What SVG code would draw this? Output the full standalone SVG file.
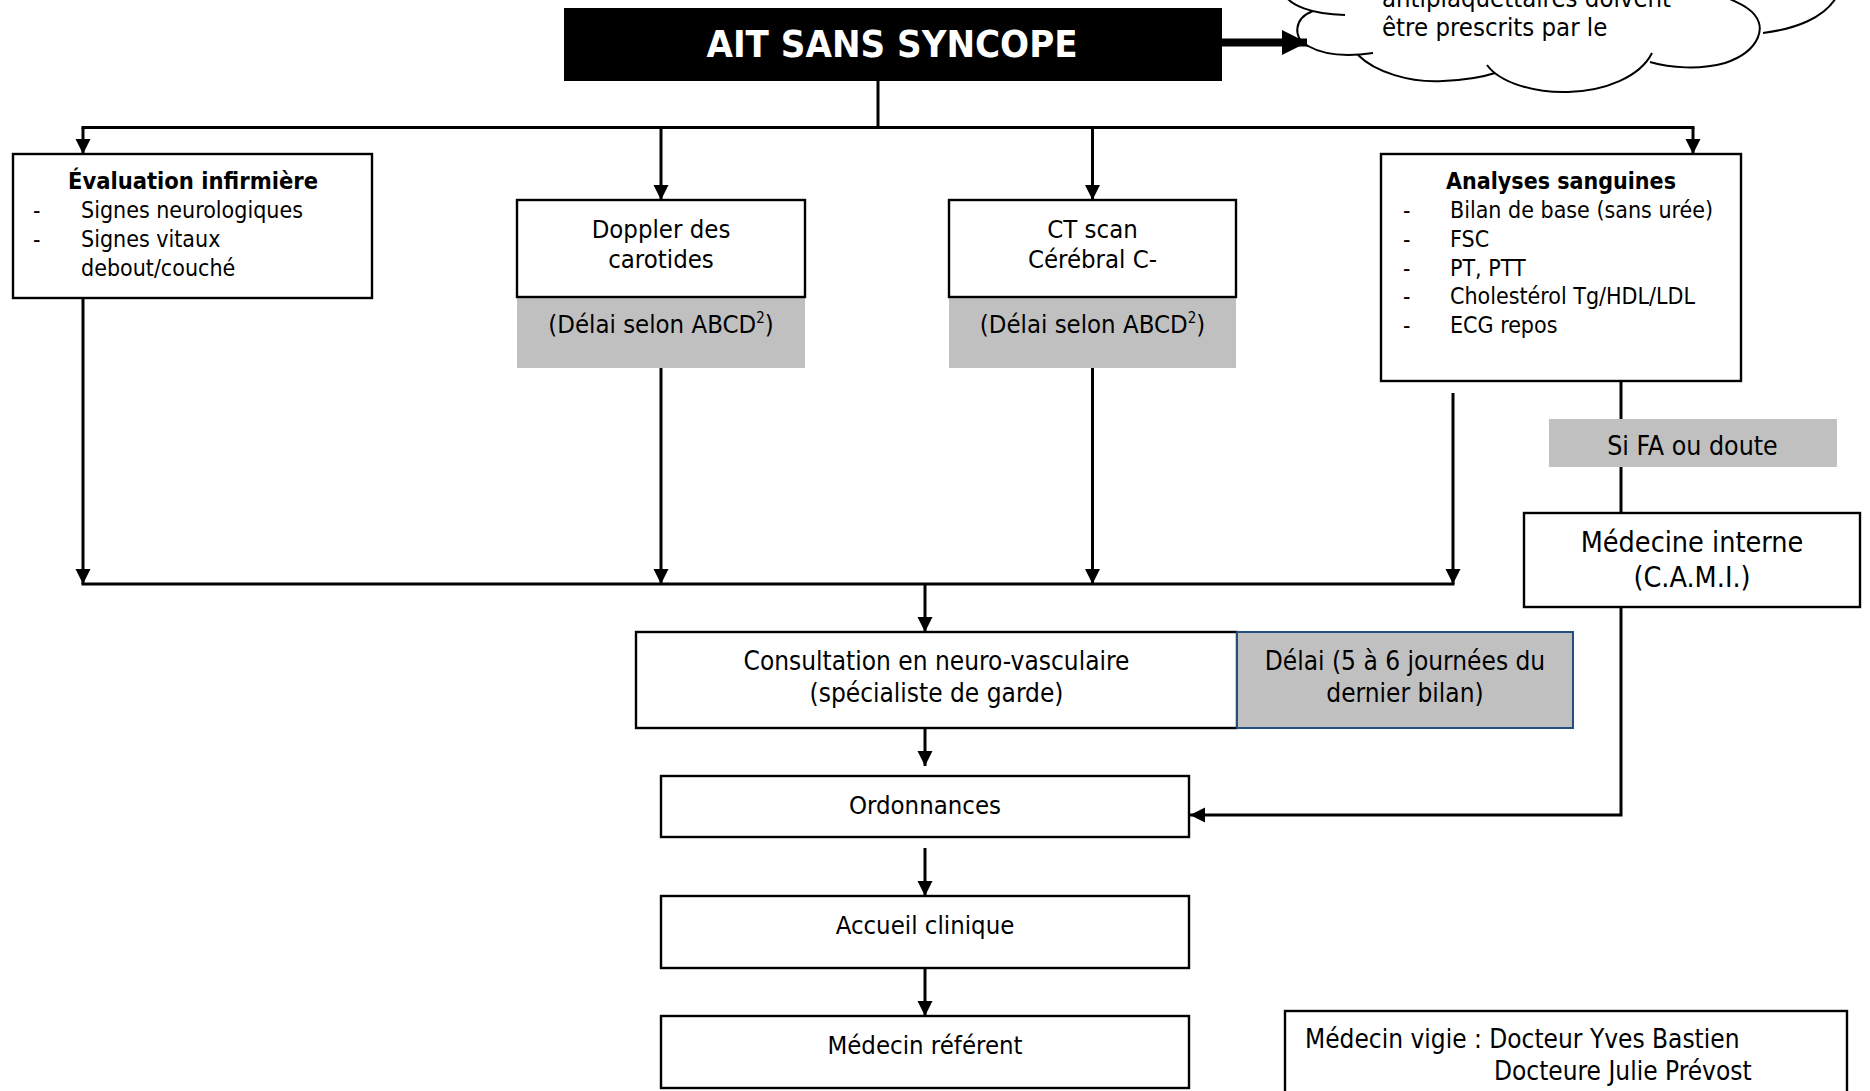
<svg xmlns="http://www.w3.org/2000/svg" width="1870" height="1091" viewBox="0 0 1870 1091">
  <defs>
    <style>
      .box { fill: #fff; stroke: #000; stroke-width: 2.4; }
      .grey { fill: #c0c0c0; }
      .t { font-family: "DejaVu Sans Condensed", "DejaVu Sans", sans-serif; font-stretch: condensed; font-size: 25.5px; fill: #000; }
      .s { font-size: 23px; }
      .b { font-weight: bold; }
      .c { text-anchor: middle; }
      .w { fill: #fff; }
      .conn { stroke: #000; stroke-width: 3; fill: none; }
      .cloud { stroke: #000; stroke-width: 2; fill: none; }
    </style>
    <marker id="arr" markerUnits="userSpaceOnUse" markerWidth="16" markerHeight="16" refX="15" refY="7.5" orient="auto">
      <path d="M0,0 L15,7.5 L0,15 Z" fill="#000"/>
    </marker>
    <marker id="big" markerUnits="userSpaceOnUse" markerWidth="28" markerHeight="28" refX="25" refY="12.5" orient="auto">
      <path d="M0,0 L25,12.5 L0,25 Z" fill="#000"/>
    </marker>
  </defs>

  <rect width="1870" height="1091" fill="#fff"/>

  <!-- cloud callout -->
  <g id="cloud">
    <path class="cloud" d="M1283,-8 C1289,6 1312,14 1345,15"/>
    <path class="cloud" d="M1313,11 C1294,18 1292,38 1308,46 C1322,54 1345,57 1373,53"/>
    <path class="cloud" d="M1358,55 C1375,72 1410,83 1443,81 C1468,80 1486,76 1495,73"/>
    <path class="cloud" d="M1487,65 C1500,83 1535,93 1568,92 C1605,91 1640,77 1652,53"/>
    <path class="cloud" d="M1650,62 C1670,68 1700,70 1725,63 C1758,52 1772,25 1747,8 C1740,3 1732,0 1725,-3"/>
    <path class="cloud" d="M1763,33 C1795,29 1825,18 1837,-4"/>
    <text class="t" x="1382" y="7">antiplaquettaires doivent</text>
    <text class="t" x="1382" y="36">être prescrits par le</text>
  </g>

  <!-- connectors -->
  <g id="connectors">
    <path d="M1222,42.5 H1307" stroke="#000" stroke-width="8" fill="none" marker-end="url(#big)"/>
    <path class="conn" d="M878,81 V127.6"/>
    <path class="conn" stroke-width="3.5" d="M81.5,127.6 H1694.5"/>
    <path class="conn" d="M83,127.6 V154" marker-end="url(#arr)"/>
    <path class="conn" d="M661,127.6 V200" marker-end="url(#arr)"/>
    <path class="conn" d="M1092.5,127.6 V200" marker-end="url(#arr)"/>
    <path class="conn" d="M1693,127.6 V154" marker-end="url(#arr)"/>

    <path class="conn" d="M83,298 V584" marker-end="url(#arr)"/>
    <path class="conn" d="M661,368 V584" marker-end="url(#arr)"/>
    <path class="conn" d="M1092.5,368 V584" marker-end="url(#arr)"/>
    <path class="conn" d="M1453,393 V584" marker-end="url(#arr)"/>
    <path class="conn" stroke-width="3.5" d="M81.5,584 H1454.5"/>
    <path class="conn" d="M925,584 V632" marker-end="url(#arr)"/>

    <path class="conn" d="M925,728 V766" marker-end="url(#arr)"/>
    <path class="conn" d="M925,848 V896" marker-end="url(#arr)"/>
    <path class="conn" d="M925,968 V1016" marker-end="url(#arr)"/>

    <path class="conn" d="M1621,381 V419"/>
    <path class="conn" d="M1621,467 V513"/>
    <path class="conn" d="M1621,607 V815 H1190" marker-end="url(#arr)"/>
  </g>

  <!-- title -->
  <g id="title">
    <rect x="564" y="8" width="658" height="73" fill="#000"/>
    <text class="t b c w" x="892" y="57" style="font-size:38px">AIT SANS SYNCOPE</text>
  </g>

  <g id="evaluation">
    <rect class="box" x="13" y="154" width="359" height="144"/>
    <text class="t s b c" x="193" y="189" style="font-size:23.5px">Évaluation infirmière</text>
    <text class="t s" x="33" y="218">-</text>
    <text class="t s" x="81" y="218">Signes neurologiques</text>
    <text class="t s" x="33" y="247">-</text>
    <text class="t s" x="81" y="247">Signes vitaux</text>
    <text class="t s" x="81" y="275.5">debout/couché</text>
  </g>

  <g id="doppler">
    <rect class="grey" x="517" y="297" width="288" height="71"/>
    <rect class="box" x="517" y="200" width="288" height="97"/>
    <text class="t c" x="661" y="238">Doppler des</text>
    <text class="t c" x="661" y="268">carotides</text>
    <text class="t c" x="661" y="333">(Délai selon ABCD<tspan font-size="15" dy="-10">2</tspan><tspan dy="10">)</tspan></text>
  </g>

  <g id="ctscan">
    <rect class="grey" x="949" y="297" width="287" height="71"/>
    <rect class="box" x="949" y="200" width="287" height="97"/>
    <text class="t c" x="1092.5" y="238">CT scan</text>
    <text class="t c" x="1092.5" y="268">Cérébral C-</text>
    <text class="t c" x="1092.5" y="333">(Délai selon ABCD<tspan font-size="15" dy="-10">2</tspan><tspan dy="10">)</tspan></text>
  </g>

  <g id="analyses">
    <rect class="box" x="1381" y="154" width="360" height="227"/>
    <text class="t s b c" x="1561" y="189">Analyses sanguines</text>
    <text class="t s" x="1403" y="218">-</text>
    <text class="t s" x="1450" y="218">Bilan de base (sans urée)</text>
    <text class="t s" x="1403" y="247">-</text>
    <text class="t s" x="1450" y="247">FSC</text>
    <text class="t s" x="1403" y="275.5">-</text>
    <text class="t s" x="1450" y="275.5">PT, PTT</text>
    <text class="t s" x="1403" y="304">-</text>
    <text class="t s" x="1450" y="304">Cholestérol Tg/HDL/LDL</text>
    <text class="t s" x="1403" y="333">-</text>
    <text class="t s" x="1450" y="333">ECG repos</text>
  </g>

  <g id="si-fa">
    <rect class="grey" x="1549" y="419" width="288" height="48"/>
    <text class="t c" x="1692.5" y="455" style="font-size:26.5px">Si FA ou doute</text>
  </g>

  <g id="medecine-interne">
    <rect class="box" x="1524" y="513" width="336" height="94"/>
    <text class="t c" x="1692" y="552" style="font-size:28.5px">Médecine interne</text>
    <text class="t c" x="1692" y="587" style="font-size:28.5px">(C.A.M.I.)</text>
  </g>

  <g id="consultation">
    <rect class="box" x="636" y="632" width="601" height="96"/>
    <text class="t c" x="936.5" y="670" style="font-size:26px">Consultation en neuro-vasculaire</text>
    <text class="t c" x="936.5" y="702" style="font-size:26px">(spécialiste de garde)</text>
  </g>

  <g id="delai">
    <rect x="1237" y="632" width="336" height="96" fill="#c0c0c0" stroke="#244e7f" stroke-width="2"/>
    <text class="t c" x="1405" y="670" style="font-size:26px">Délai (5 à 6 journées du</text>
    <text class="t c" x="1405" y="702" style="font-size:26px">dernier bilan)</text>
  </g>

  <g id="ordonnances">
    <rect class="box" x="661" y="776" width="528" height="61"/>
    <text class="t c" x="925" y="814">Ordonnances</text>
  </g>

  <g id="accueil">
    <rect class="box" x="661" y="896" width="528" height="72"/>
    <text class="t c" x="925" y="934">Accueil clinique</text>
  </g>

  <g id="medecin-referent">
    <rect class="box" x="661" y="1016" width="528" height="72"/>
    <text class="t c" x="925" y="1054">Médecin référent</text>
  </g>

  <g id="vigie">
    <rect class="box" x="1285" y="1011" width="562" height="100"/>
    <text class="t" x="1305" y="1048" style="font-size:26px">Médecin vigie : Docteur Yves Bastien</text>
    <text class="t" x="1494" y="1080" style="font-size:26px">Docteure Julie Prévost</text>
  </g>
</svg>
